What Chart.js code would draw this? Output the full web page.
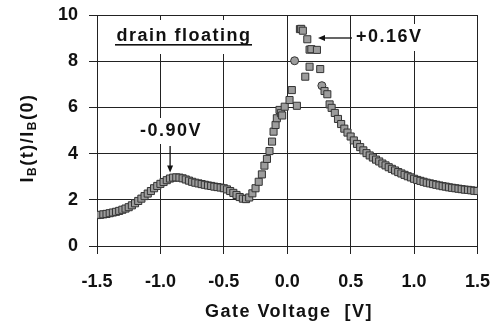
<!DOCTYPE html>
<html>
<head>
<meta charset="utf-8">
<script src="https://cdn.jsdelivr.net/npm/chart.js@4/dist/chart.umd.min.js"></script>
<style>
  html, body { margin: 0; padding: 0; background: #fff; }
  canvas { display: block; }
</style>
</head>
<body>
<canvas id="chart" width="498" height="334"></canvas>
<script>
// Gate voltage sweep [V] and normalized body current IB(t)/IB(0), square markers
const gateVoltage = [
  -1.500, -1.475, -1.450, -1.425, -1.400, -1.375, -1.350, -1.325, -1.300, -1.275,
  -1.250, -1.225, -1.200, -1.175, -1.150, -1.125, -1.100, -1.075, -1.050, -1.025,
  -1.000, -0.975, -0.950, -0.925, -0.900, -0.875, -0.850, -0.825, -0.800, -0.775,
  -0.750, -0.725, -0.700, -0.675, -0.650, -0.625, -0.600, -0.575, -0.550, -0.525,
  -0.500, -0.475, -0.450, -0.425, -0.400, -0.375, -0.350, -0.325, -0.300, -0.275,
  -0.250, -0.225,
  -0.200, -0.180, -0.160, -0.140, -0.120, -0.108, -0.092, -0.082, -0.061, -0.050,
  -0.040, -0.020, 0.018, 0.036, 0.076, 0.100, 0.110, 0.123, 0.142, 0.158,
  0.176, 0.176, 0.190, 0.234, 0.260, 0.294, 0.316, 0.334,
  0.350, 0.375, 0.400, 0.425, 0.450, 0.475, 0.500, 0.525, 0.550, 0.575,
  0.600, 0.625, 0.650, 0.675, 0.700, 0.725, 0.750, 0.775, 0.800, 0.825,
  0.850, 0.875, 0.900, 0.925, 0.950, 0.975, 1.000, 1.025, 1.050, 1.075,
  1.100, 1.125, 1.150, 1.175, 1.200, 1.225, 1.250, 1.275, 1.300, 1.325,
  1.350, 1.375, 1.400, 1.425, 1.450, 1.475, 1.500
];
const currentRatio = [
  1.34, 1.35, 1.37, 1.39, 1.42, 1.45, 1.48, 1.52, 1.57, 1.62,
  1.68, 1.76, 1.85, 1.95, 2.05, 2.16, 2.27, 2.38, 2.50, 2.60,
  2.69, 2.77, 2.85, 2.92, 2.96, 2.97, 2.96, 2.93, 2.88, 2.83,
  2.78, 2.74, 2.71, 2.68, 2.65, 2.62, 2.60, 2.57, 2.55, 2.53,
  2.50, 2.45, 2.38, 2.30, 2.21, 2.12, 2.05, 2.03, 2.10, 2.28,
  2.50, 2.78,
  3.10, 3.48, 3.77, 4.11, 4.52, 4.95, 5.24, 5.53, 5.89, 5.75,
  5.65, 6.03, 6.32, 6.75, 6.07, 9.39, 9.40, 9.32, 7.33, 8.95,
  7.76, 8.50, 8.52, 8.49, 7.66, 6.71, 6.57, 6.13,
  5.98, 5.76, 5.50, 5.28, 5.08, 4.91, 4.74, 4.57, 4.42, 4.28,
  4.14, 4.02, 3.92, 3.83, 3.74, 3.66, 3.57, 3.49, 3.41, 3.34,
  3.27, 3.20, 3.14, 3.08, 3.02, 2.97, 2.91, 2.86, 2.82, 2.78,
  2.74, 2.71, 2.68, 2.65, 2.62, 2.59, 2.57, 2.54, 2.52, 2.50,
  2.48, 2.46, 2.44, 2.43, 2.41, 2.39, 2.38
];
// two points plotted with round markers
const roundVoltage = [0.058, 0.273];
const roundRatio = [8.02, 6.94];

const xTicks = [-1.5, -1.0, -0.5, 0.0, 0.5, 1.0, 1.5];
const yTicks = [0, 2, 4, 6, 8, 10];

const BOLD = '"Liberation Sans", Arial, sans-serif';

// arrow with a small filled head at (x2, y2)
function arrow(ctx, x1, y1, x2, y2) {
  const ang = Math.atan2(y2 - y1, x2 - x1);
  ctx.beginPath();
  ctx.moveTo(x1, y1);
  ctx.lineTo(x2 - 5 * Math.cos(ang), y2 - 5 * Math.sin(ang));
  ctx.stroke();
  ctx.beginPath();
  ctx.moveTo(x2, y2);
  ctx.lineTo(x2 - 7 * Math.cos(ang) + 3 * Math.sin(ang), y2 - 7 * Math.sin(ang) - 3 * Math.cos(ang));
  ctx.lineTo(x2 - 7 * Math.cos(ang) - 3 * Math.sin(ang), y2 - 7 * Math.sin(ang) + 3 * Math.cos(ang));
  ctx.closePath();
  ctx.fill();
}

const annotations = {
  id: 'annotations',
  afterDatasetsDraw(chart) {
    const ctx = chart.ctx;
    const xs = chart.scales.x, ys = chart.scales.y;
    ctx.save();
    ctx.fillStyle = '#111';
    ctx.strokeStyle = '#111';
    ctx.lineWidth = 1.3;
    ctx.font = 'bold 18px ' + BOLD;
    ctx.letterSpacing = '1.5px';
    ctx.textBaseline = 'middle';

    // drain floating
    ctx.fillStyle = '#fff';
    ctx.fillRect(112, 20, 144, 34);
    ctx.fillStyle = '#111';
    ctx.textAlign = 'center';
    ctx.fillText('drain floating', 184, 36);
    ctx.fillRect(115, 44, 137, 1.6);

    // peak near -0.90 V
    const xa = xs.getPixelForValue(-0.9);
    ctx.fillStyle = '#fff';
    ctx.fillRect(138, 118, 66, 26);
    ctx.fillStyle = '#111';
    ctx.fillText('-0.90V', 171, 131);
    arrow(ctx, xa - 3, 146, xa - 3, ys.getPixelForValue(2.97) - 5);

    // peak near +0.16 V
    ctx.fillStyle = '#fff';
    ctx.fillRect(353, 24, 76, 27);
    ctx.fillStyle = '#111';
    ctx.textAlign = 'left';
    ctx.fillText('+0.16V', 356, 37);
    arrow(ctx, 352, 38, 318, 38);

    ctx.restore();
  },
  afterDraw(chart) {
    const ctx = chart.ctx;
    ctx.save();
    ctx.fillStyle = '#111';
    ctx.letterSpacing = '1.5px';
    ctx.textBaseline = 'middle';
    ctx.textAlign = 'center';
    ctx.font = 'bold 18px ' + BOLD;
    ctx.fillText('Gate Voltage  [V]', 289, 312);

    // y title with subscripts, rotated
    const parts = [
      ['I', false], ['B', true], ['(t)/I', false], ['B', true], ['(0)', false]
    ];
    const fontFor = sub => sub ? 'bold 12px ' + BOLD : 'bold 18px ' + BOLD;
    let total = 0;
    parts.forEach(([t, sub]) => { ctx.font = fontFor(sub); total += ctx.measureText(t).width; });
    ctx.translate(28, 138);
    ctx.rotate(-Math.PI / 2);
    ctx.textAlign = 'left';
    let x = -total / 2;
    parts.forEach(([t, sub]) => {
      ctx.font = fontFor(sub);
      ctx.fillText(t, x, sub ? 5 : 0);
      x += ctx.measureText(t).width;
    });
    ctx.restore();
  }
};

new Chart(document.getElementById('chart'), {
  type: 'scatter',
  data: {
    datasets: [{
      data: gateVoltage.map((v, i) => ({ x: v, y: currentRatio[i] })),
      pointStyle: 'rect',
      pointRadius: 5,
      backgroundColor: '#9c9c9c',
      borderColor: '#333',
      borderWidth: 1
    }, {
      data: roundVoltage.map((v, i) => ({ x: v, y: roundRatio[i] })),
      pointStyle: 'circle',
      pointRadius: 4,
      backgroundColor: '#9c9c9c',
      borderColor: '#333',
      borderWidth: 1
    }]
  },
  options: {
    responsive: false,
    animation: false,
    events: [],
    layout: { padding: { top: 15, right: 20.5, left: 0, bottom: 0 } },
    plugins: { legend: { display: false }, tooltip: { enabled: false } },
    scales: {
      x: {
        type: 'linear',
        min: -1.5, max: 1.5,
        afterFit: s => {
          s.height = 88;
          s.paddingLeft = 0;
          s.paddingRight = 0;
        },
        afterBuildTicks: s => { s.ticks = xTicks.map(v => ({ value: v })); },
        ticks: {
          padding: 17,
          color: '#111',
          font: { family: BOLD, size: 18, weight: 'bold' },
          callback: v => v.toFixed(1)
        },
        grid: { color: '#222', lineWidth: 1, tickLength: 8 },
        border: { color: '#222', width: 1 }
      },
      y: {
        min: 0, max: 10,
        afterFit: s => {
          s.width = 97;
          s.paddingTop = 0;
          s.paddingBottom = 0;
        },
        afterBuildTicks: s => { s.ticks = yTicks.map(v => ({ value: v })); },
        ticks: {
          padding: 11,
          color: '#111',
          font: { family: BOLD, size: 18, weight: 'bold' }
        },
        grid: { color: '#222', lineWidth: 1, tickLength: 8 },
        border: { color: '#222', width: 1 }
      }
    }
  },
  plugins: [annotations]
});
</script>
</body>
</html>
